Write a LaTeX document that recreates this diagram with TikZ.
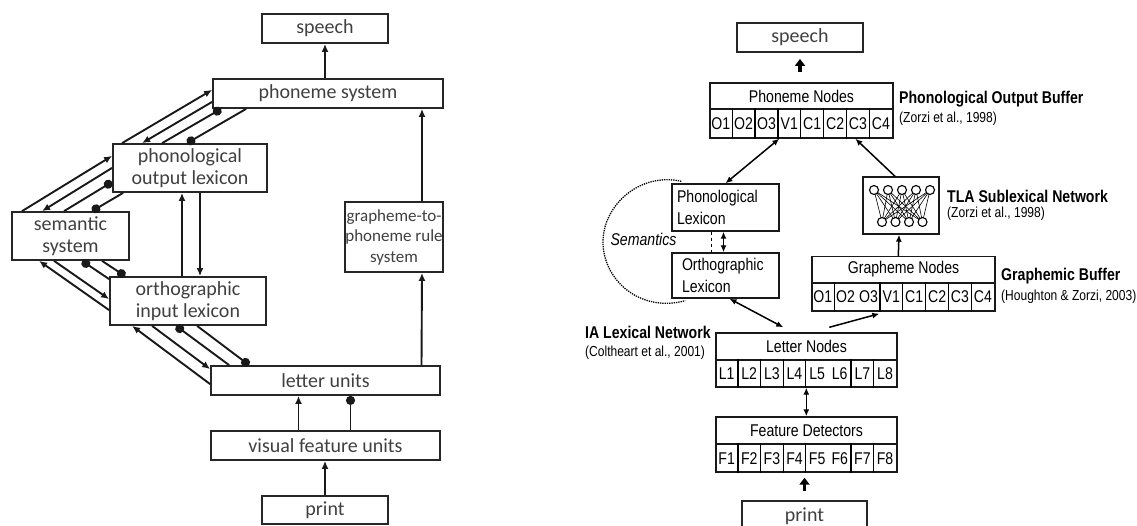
\documentclass[tikz,border=0pt]{standalone}
\usepackage{fontspec}
\setmainfont{Carlito}
\newfontfamily\narrowfont[FakeStretch=0.83]{Liberation Sans}
\usetikzlibrary{arrows.meta,calc}

\begin{document}
\begin{tikzpicture}[x=1pt,y=-1pt,
    box/.style 2 args={draw=black!85, line width=1.8pt, inner sep=0pt, minimum width=#1pt, minimum height=#2pt, text=black!75, font=\fontsize{20}{22}\selectfont, align=center},
    rbox/.style 2 args={draw=black!90, line width=1.4pt, inner sep=0pt, minimum width=#1pt, minimum height=#2pt, font=\narrowfont\fontsize{17}{22}\selectfont},
    cell/.style={inner sep=0pt, text height=12pt, text depth=0pt, font=\narrowfont\fontsize{17}{18}\selectfont},
    bufname/.style={anchor=west, inner sep=0pt, font=\narrowfont\bfseries\fontsize{17}{18}\selectfont},
    bufcite/.style={anchor=west, inner sep=0pt, font=\narrowfont\fontsize{14.5}{15}\selectfont},
    link/.style={draw=black!90, line width=1.9pt},
    arr/.style={link, -{Latex[length=8pt,width=7pt]}},
    dotend/.style={link, -{Circle[length=9pt]}},
    rarr/.style={line width=1.5pt, -{Latex[length=7pt,width=6pt]}},
    rboth/.style={line width=1.5pt, {Latex[length=7pt,width=6pt]}-{Latex[length=7pt,width=6pt]}},
    fat/.style={line width=3.5pt, -{Triangle[length=7pt,width=10pt]}},
    net/.style={line width=0.6pt},
  ]
  \path[use as bounding box, fill=white] (0,0) rectangle (1137,526);

  % left model
  \node[box={126}{29}] (speechL) at (325,28.5) {speech};
  \node[box={230}{29}] (phon) at (328,93.5) {phoneme system};
  \node[box={154}{48}] (pol) at (190,168) {phonological\\output lexicon};
  \node[box={117}{48}] (sem) at (70.5,236) {semantic\\system};
  \node[box={98}{70}, font=\fontsize{17}{20.5}\selectfont] (g2p) at (394,237) {grapheme-to-\\phoneme rule\\system};
  \node[box={156}{48}] (oil) at (188,301) {orthographic\\input lexicon};
  \node[box={229}{29}] (let) at (325.5,380.5) {letter units};
  \node[box={229}{29}] (vis) at (325.5,445.5) {visual feature units};
  \node[box={126}{28}] (printL) at (325,510) {print};

  \draw[arr] (speechL.south |- phon.north) -- (speechL.south);
  \draw[arr] ($(g2p.north)+(28,0)$) -- ($(phon.south)+(94,0)$);
  \draw[arr] ($(let.north)+(96,0)$) -- ($(g2p.south)+(28,0)$);
  \draw[arr] ($(vis.north)+(-27,0)$) -- ($(let.south)+(-27,0)$);
  \draw[dotend] ($(vis.north)+(25,0)$) -- ($(let.south)+(25,0)$);
  \draw[arr] (printL.north) -- (printL.north |- vis.south);
  \draw[arr] ($(oil.north)+(-6,0)$) -- ($(pol.south)+(-8,0)$);
  \draw[arr] ($(pol.south)+(10,0)$) -- ($(oil.north)+(12,0)$);

  \draw[arr] ($(pol.north west)+(10,0)$) -- ($(phon.south west)+(0,-19)$);
  \draw[arr] ($(phon.south west)+(0,-7)$) -- ($(pol.north west)+(30,0)$);
  \draw[dotend] ($(pol.north west)+(50,0)$) -- ($(phon.south west)+(9,0)$);
  \draw[dotend] ($(phon.south west)+(34,0)$) -- ($(pol.north west)+(75,0)$);

  \draw[arr] ($(sem.north west)+(11,0)$) -- ($(pol.south west)+(0,-37)$);
  \draw[arr] ($(pol.south west)+(0,-25)$) -- ($(sem.north west)+(31,0)$);
  \draw[dotend] ($(sem.north west)+(53,0)$) -- ($(pol.south west)+(0,-11)$);
  \draw[dotend] ($(pol.south west)+(11,0)$) -- ($(sem.north west)+(81,0)$);

  \draw[arr] ($(oil.north west)+(0,34)$) -- ($(sem.south west)+(28,0)$);
  \draw[arr] ($(sem.south west)+(43,0)$) -- ($(oil.north west)+(0,23)$);
  \draw[dotend] ($(oil.north west)+(0,3)$) -- ($(sem.south west)+(71,0)$);
  \draw[dotend] ($(sem.south west)+(91,0)$) -- ($(oil.north west)+(16,0)$);

  \draw[arr] ($(let.north west)+(0,19)$) -- ($(oil.south west)+(23,0)$);
  \draw[arr] ($(oil.south west)+(43,0)$) -- ($(let.north west)+(0,4)$);
  \draw[dotend] ($(let.north west)+(19,0)$) -- ($(oil.south west)+(67,0)$);
  \draw[dotend] ($(oil.south west)+(88,0)$) -- ($(let.north west)+(39,0)$);

  % right model
  \node[box={126}{29}] (speechR) at (800,37.5) {speech};
  \node[rbox={183}{26}] (pnhead) at (801.5,96) {Phoneme Nodes};
  \node[rbox={183}{29}] (pncell) at (801.5,123.5) {};
  \node[rbox={107}{47}, align=left, text width=97pt] (plex) at (725.5,207.5) {Phonological\\Lexicon};
  \node[rbox={107}{45}, align=left, text width=87pt] (olex) at (725.5,275.5) {Orthographic\\Lexicon};
  \node[rbox={76}{57}] (tla) at (901,205.5) {};
  \node[rbox={183}{26}] (ghead) at (903.5,269.5) {Grapheme Nodes};
  \node[rbox={183}{28}] (gcell) at (903.5,297) {};
  \node[rbox={181}{27}] (lhead) at (806.5,346.5) {Letter Nodes};
  \node[rbox={181}{27}] (lcell) at (806.5,373.5) {};
  \node[rbox={181}{27}] (fhead) at (806.5,430.5) {Feature Detectors};
  \node[rbox={181}{28}] (fcell) at (806.5,458) {};
  \node[box={125}{30}] (printR) at (804.5,516) {print};

  \foreach \t [count=\i] in {O1,O2,O3,V1,C1,C2,C3,C4}
    \node[cell] (pn\i) at ($(pncell.west)+(22.875*\i-11.44,0)$) {\t};
  \foreach \t [count=\i] in {O1,O2,O3,V1,C1,C2,C3,C4}
    \node[cell] (gn\i) at ($(gcell.west)+(22.875*\i-11.44,0)$) {\t};
  \foreach \t [count=\i] in {L1,L2,L3,L4,L5,L6,L7,L8}
    \node[cell] (ln\i) at ($(lcell.west)+(22.625*\i-11.31,0)$) {\t};
  \foreach \t [count=\i] in {F1,F2,F3,F4,F5,F6,F7,F8}
    \node[cell] (fn\i) at ($(fcell.west)+(22.625*\i-11.31,0)$) {\t};
  \foreach \i in {1,...,7}
    \draw[line width=1.2pt] ($(pncell.north west)+(22.875*\i,0)$) -- ($(pncell.south west)+(22.875*\i,0)$);
  \foreach \i in {1,3,4,5,6,7}
    \draw[line width=1.2pt] ($(gcell.north west)+(22.875*\i,0)$) -- ($(gcell.south west)+(22.875*\i,0)$);
  \foreach \i in {1,2,3,4,6,7} {
    \draw[line width=1.2pt] ($(lcell.north west)+(22.625*\i,0)$) -- ($(lcell.south west)+(22.625*\i,0)$);
    \draw[line width=1.2pt] ($(fcell.north west)+(22.625*\i,0)$) -- ($(fcell.south west)+(22.625*\i,0)$);
  }

  \foreach \a in {-27,-13,1,15,29}
    \foreach \b in {-19,-5.5,8,21.5}
      \draw[net] ($(tla)+(\a,-15.5)$) -- ($(tla)+(\b,16.5)$);
  \foreach \a in {-27,-13,1,15,29}
    \draw[line width=1.1pt, fill=white] ($(tla)+(\a,-15.5)$) circle (4.5);
  \foreach \b in {-19,-5.5,8,21.5}
    \draw[line width=1.1pt, fill=white] ($(tla)+(\b,16.5)$) circle (4.5);

  \draw[fat, shorten <=10pt, shorten >=6pt] (pnhead.north -| speechR) -- (speechR.south);
  \draw[rboth] ($(pncell.south west)+(70,0)$) -- (plex.north);
  \draw[rarr] ($(tla.north)+(-6,0)$) -- ($(pncell.south west)+(146,0)$);
  \draw[rboth] ($(plex.south)+(-2,0)$) -- ($(olex.north)+(-2,0)$);
  \draw[dashed, line width=1pt] ($(plex.south)+(-14,0)$) -- ($(olex.north)+(-14,0)$);
  \draw[rboth] ($(olex.south)+(4,0)$) -- ($(lhead.north west)+(68,-5)$);
  \draw[rarr] ($(lhead.north west)+(114,-5)$) -- ($(gcell.south west)+(68,2)$);
  \draw[rarr] ($(ghead.north west)+(87,0)$) -- ($(tla.south)+(-2,0)$);
  \draw[rboth] ($(lcell.south west)+(91,0)$) -- ($(fhead.north west)+(91,0)$);
  \draw[fat, shorten <=9pt, shorten >=5pt] (printR.north) -- (printR.north |- fcell.south);

  \draw[densely dotted, line width=1.3pt] ($(plex.north west)+(10,-2)$) .. controls (640,172) and (603,205) .. (603,242)
    .. controls (603,280) and (640,313) .. ($(olex.south west)+(14,2)$);
  \node[inner sep=0pt, font=\narrowfont\itshape\fontsize{17}{18}\selectfont] (semlbl) at (643.5,239) {Semantics};

  \node[bufname] (pobname) at (899,99) {Phonological Output Buffer};
  \node[bufcite] (pobcite) at (899,119) {(Zorzi et al., 1998)};
  \node[bufname] (tlaname) at (947,196) {TLA Sublexical Network};
  \node[bufcite] (tlacite) at (947,214) {(Zorzi et al., 1998)};
  \node[bufname] (gbname) at (1001,276) {Graphemic Buffer};
  \node[bufcite] (gbcite) at (1001,297) {(Houghton \& Zorzi, 2003)};
  \node[bufname] (ianame) at (585,332) {IA Lexical Network};
  \node[bufcite] (iacite) at (585,353) {(Coltheart et al., 2001)};
\end{tikzpicture}
\end{document}
